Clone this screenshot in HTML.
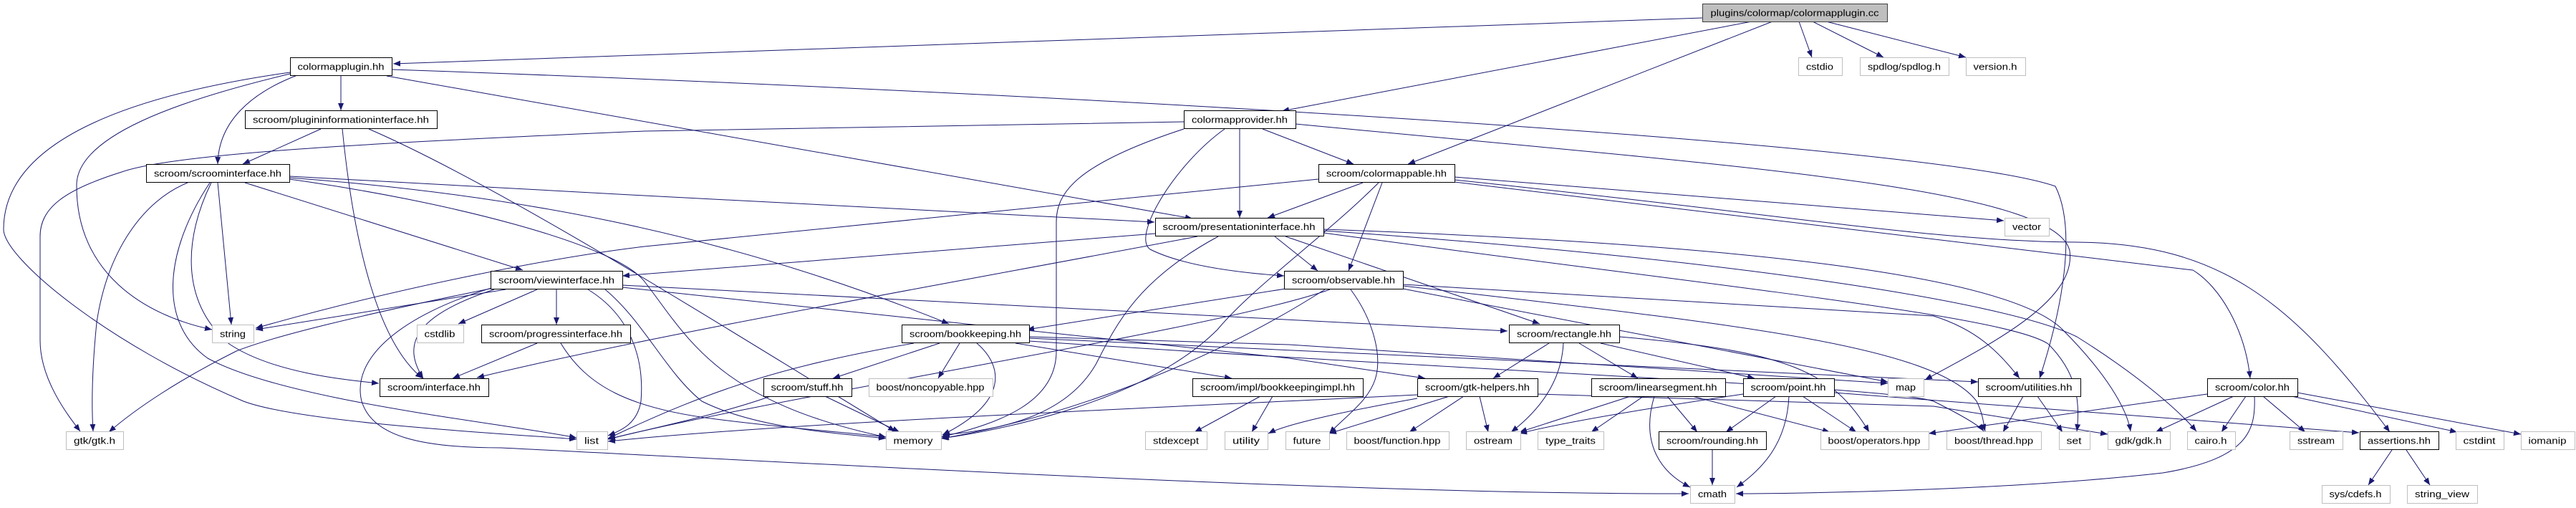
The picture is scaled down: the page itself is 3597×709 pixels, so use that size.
<!DOCTYPE html>
<html><head><meta charset="utf-8"><style>
html,body{margin:0;padding:0;background:#fff;}
svg{display:block;}
text{font-family:"Liberation Sans",sans-serif;font-size:13px;fill:#000;}
</style></head><body>
<svg width="3597" height="709" viewBox="0 0 3597 709" xmlns="http://www.w3.org/2000/svg">
<defs><marker id="a" markerWidth="11" markerHeight="8" refX="10" refY="4" orient="auto" markerUnits="userSpaceOnUse"><path d="M0,0 L10,4 L0,8 z" fill="#191970"/></marker></defs>
<g fill="none" stroke="#191970" stroke-width="1" marker-end="url(#a)">
<path d="M2377,25 L549,89"/>
<path d="M2446,30 L1790,155"/>
<path d="M2475,30 L1966,229"/>
<path d="M2512,30 L2530,80"/>
<path d="M2531,30 L2630,80"/>
<path d="M2550,30 L2745,80"/>
<path d="M476,105 L476,154"/>
<path d="M415,105 C350,130 305,170 304,229"/>
<path d="M405,103 C250,140 105,190 107,260 C107,380 200,440 296,460"/>
<path d="M405,101 C200,130 5,190 5,320 C5,360 150,480 340,560 C420,590 700,605 805,613"/>
<path d="M540,106 L1665,305"/>
<path d="M547,97 C1500,130 2700,200 2870,260 C2900,320 2880,430 2848,528"/>
<path d="M448,180 L339,229"/>
<path d="M478,180 C495,350 530,480 590,528"/>
<path d="M515,180 C700,260 1000,450 1250,602"/>
<path d="M1653,170 L900,183 C500,200 240,215 170,240 C90,265 56,290 56,330 L56,475 C56,530 95,580 112,602"/>
<path d="M1731,180 L1731,304"/>
<path d="M1710,180 C1640,230 1580,330 1606,348 C1650,370 1720,380 1793,385"/>
<path d="M1653,180 C1500,230 1475,270 1475,310 L1475,490 C1475,560 1400,590 1314,610"/>
<path d="M1763,180 L1890,229"/>
<path d="M1809,173 C2400,230 2870,260 2890,350 C2900,420 2780,480 2688,530"/>
<path d="M1903,255 L1770,304"/>
<path d="M1930,255 L1883,378"/>
<path d="M1925,255 C1850,330 1750,400 1700,460 C1600,560 1400,600 1314,612"/>
<path d="M1841,250 L900,344 C780,358 560,400 357,458"/>
<path d="M2031,247 L2798,308"/>
<path d="M2031,251 C2500,300 2700,337 2900,338 C3100,340 3200,420 3337,603"/>
<path d="M2031,254 L3062,377 C3100,400 3135,460 3142,528"/>
<path d="M1613,326 L869,385"/>
<path d="M1672,330 C1300,400 900,470 666,527"/>
<path d="M1701,330 C1590,390 1560,450 1531,507 C1490,580 1400,600 1316,607"/>
<path d="M1780,330 L1840,378"/>
<path d="M1795,330 L2150,452"/>
<path d="M1848,320 C2400,340 2800,380 2880,460 C2940,520 2970,570 2975,602"/>
<path d="M1848,322 C2400,360 2800,420 2900,470 C2980,520 3040,570 3067,602"/>
<path d="M1848,325 C2400,400 2800,440 2860,480 C2900,520 2905,560 2900,602"/>
<path d="M706,404 L357,460"/>
<path d="M689,402 C500,440 380,470 330,490 C250,530 190,570 152,603"/>
<path d="M750,404 L640,452"/>
<path d="M777,404 L777,453"/>
<path d="M690,404 C580,440 560,480 591,528"/>
<path d="M821,404 C880,440 900,500 895,560 C890,590 870,600 849,608"/>
<path d="M686,402 C560,440 490,500 505,560 C520,610 590,625 700,625 C1200,650 1900,690 2358,689"/>
<path d="M845,404 C900,450 930,520 980,560 C1060,600 1180,605 1237,612"/>
<path d="M869,398 L2105,462"/>
<path d="M869,401 L1800,500 L1990,528"/>
<path d="M404,246 L900,273 L1612,310"/>
<path d="M404,248 C700,270 1000,320 1325,452"/>
<path d="M404,250 C620,280 860,340 900,393 C960,470 1000,560 1237,610"/>
<path d="M342,255 L730,377"/>
<path d="M304,255 L323,453"/>
<path d="M262,255 C200,280 150,350 135,450 C128,520 128,570 130,602"/>
<path d="M295,255 C258,330 250,420 320,480 C380,520 480,530 529,535"/>
<path d="M293,255 C230,350 220,450 290,500 C400,560 700,590 805,611"/>
<path d="M750,479 L632,528"/>
<path d="M783,479 C820,540 880,570 1000,585 C1100,598 1200,605 1237,610"/>
<path d="M1795,403 L1434,460"/>
<path d="M1857,404 C1700,460 1100,550 849,613"/>
<path d="M1850,404 C1700,500 1500,580 1315,612"/>
<path d="M1886,404 C1920,450 1930,500 1920,530 C1910,560 1880,580 1856,605"/>
<path d="M1959,397 L2700,441 C2760,460 2790,490 2820,528"/>
<path d="M1959,399 C2400,450 2700,480 2760,560 C2770,580 2770,595 2772,602"/>
<path d="M1959,403 L2636,533"/>
<path d="M1312,479 L1163,528"/>
<path d="M1340,479 L1310,528"/>
<path d="M1364,479 C1400,510 1410,560 1316,607"/>
<path d="M1418,479 L1720,528"/>
<path d="M1276,479 C1100,510 1000,540 849,612"/>
<path d="M1437,470 L1800,481 L2636,535"/>
<path d="M1437,472 L2762,533"/>
<path d="M1437,476 C2100,520 2640,540 2700,560 C2740,580 2765,595 2770,602"/>
<path d="M1076,553 C1000,580 900,600 849,613"/>
<path d="M1152,553 L1256,603"/>
<path d="M1760,553 L1668,603"/>
<path d="M1777,553 L1748,603"/>
<path d="M2163,479 L2085,528"/>
<path d="M2183,479 C2180,540 2140,580 2110,603"/>
<path d="M2205,479 L2287,528"/>
<path d="M2235,479 L2450,528"/>
<path d="M2261,470 C2500,490 2560,520 2610,603"/>
<path d="M2024,553 L1856,605"/>
<path d="M2044,553 L1968,603"/>
<path d="M2066,553 L2078,603"/>
<path d="M1979,551 C1600,570 1100,590 849,616"/>
<path d="M1979,556 C1900,570 1800,590 1771,605"/>
<path d="M2147,550 L2700,567 L2943,606"/>
<path d="M2277,553 L2122,603"/>
<path d="M2295,553 L2222,603"/>
<path d="M2328,553 L2370,603"/>
<path d="M2310,553 C2290,620 2320,660 2360,680"/>
<path d="M2363,553 L2555,603"/>
<path d="M2434,550 C2300,570 2180,590 2122,605"/>
<path d="M2480,553 L2410,603"/>
<path d="M2498,553 C2495,620 2460,655 2425,680"/>
<path d="M2517,553 L2592,603"/>
<path d="M2561,548 L3294,604"/>
<path d="M2391,628 L2391,677"/>
<path d="M2825,553 L2797,603"/>
<path d="M2845,553 L2880,603"/>
<path d="M3082,550 L2693,605"/>
<path d="M3119,553 L3010,603"/>
<path d="M3136,553 L3102,603"/>
<path d="M3160,553 L3219,603"/>
<path d="M3200,553 L3431,603"/>
<path d="M3208,548 L3520,606"/>
<path d="M3148,553 C3150,600 3140,640 3020,660 C2800,685 2500,689 2424,689"/>
<path d="M3340,628 L3307,677"/>
<path d="M3360,628 L3393,677"/>
</g>
<g stroke-width="1">
<rect x="2377.5" y="5.5" width="258" height="25" fill="#bfbfbf" stroke="#404040"/>
<g fill="#fff" stroke="#000">
<rect x="405.5" y="80.5" width="142" height="25"/>
<rect x="342.5" y="154.5" width="268" height="25"/>
<rect x="1653.5" y="154.5" width="156" height="25"/>
<rect x="204.5" y="229.5" width="200" height="25"/>
<rect x="1841.5" y="229.5" width="190" height="25"/>
<rect x="1613.5" y="304.5" width="235" height="25"/>
<rect x="685.5" y="378.5" width="184" height="25"/>
<rect x="1793.5" y="378.5" width="166" height="25"/>
<rect x="672.5" y="453.5" width="208" height="25"/>
<rect x="1259.5" y="453.5" width="178" height="25"/>
<rect x="2107.5" y="453.5" width="154" height="25"/>
<rect x="530.5" y="528.5" width="152" height="25"/>
<rect x="1066.5" y="528.5" width="123" height="25"/>
<rect x="1665.5" y="528.5" width="238" height="25"/>
<rect x="1979.5" y="528.5" width="168" height="25"/>
<rect x="2222.5" y="528.5" width="187" height="25"/>
<rect x="2434.5" y="528.5" width="127" height="25"/>
<rect x="2762.5" y="528.5" width="143" height="25"/>
<rect x="3082.5" y="528.5" width="126" height="25"/>
<rect x="2316.5" y="602.5" width="150" height="25"/>
<rect x="3295.5" y="602.5" width="110" height="25"/>
</g>
<g fill="#fff" stroke="#bfbfbf">
<rect x="2511.5" y="80.5" width="61" height="25"/>
<rect x="2597.5" y="80.5" width="124" height="25"/>
<rect x="2745.5" y="80.5" width="83" height="25"/>
<rect x="2799.5" y="304.5" width="62" height="25"/>
<rect x="296.5" y="453.5" width="58" height="25"/>
<rect x="582.5" y="453.5" width="65" height="25"/>
<rect x="1213.5" y="528.5" width="173" height="25"/>
<rect x="2636.5" y="528.5" width="50" height="25"/>
<rect x="92.5" y="602.5" width="80" height="25"/>
<rect x="805.5" y="602.5" width="43" height="25"/>
<rect x="1237.5" y="602.5" width="77" height="25"/>
<rect x="1599.5" y="602.5" width="86" height="25"/>
<rect x="1710.5" y="602.5" width="60" height="25"/>
<rect x="1795.5" y="602.5" width="61" height="25"/>
<rect x="1880.5" y="602.5" width="143" height="25"/>
<rect x="2047.5" y="602.5" width="76" height="25"/>
<rect x="2147.5" y="602.5" width="92" height="25"/>
<rect x="2542.5" y="602.5" width="151" height="25"/>
<rect x="2718.5" y="602.5" width="132" height="25"/>
<rect x="2875.5" y="602.5" width="43" height="25"/>
<rect x="2943.5" y="602.5" width="87" height="25"/>
<rect x="3054.5" y="602.5" width="67" height="25"/>
<rect x="3197.5" y="602.5" width="74" height="25"/>
<rect x="3429.5" y="602.5" width="67" height="25"/>
<rect x="3520.5" y="602.5" width="75" height="25"/>
<rect x="2360.5" y="677.5" width="62" height="25"/>
<rect x="3242.5" y="677.5" width="95" height="25"/>
<rect x="3361.5" y="677.5" width="98" height="25"/>
</g>
</g>
<g text-anchor="middle">
<text x="2506" y="22.5" textLength="235" lengthAdjust="spacingAndGlyphs">plugins/colormap/colormapplugin.cc</text>
<text x="476" y="97.5" textLength="121" lengthAdjust="spacingAndGlyphs">colormapplugin.hh</text>
<text x="2541" y="97.5" textLength="38" lengthAdjust="spacingAndGlyphs">cstdio</text>
<text x="2659" y="97.5" textLength="102" lengthAdjust="spacingAndGlyphs">spdlog/spdlog.h</text>
<text x="2786" y="97.5" textLength="61" lengthAdjust="spacingAndGlyphs">version.h</text>
<text x="476" y="171.5" textLength="246" lengthAdjust="spacingAndGlyphs">scroom/plugininformationinterface.hh</text>
<text x="1731" y="171.5" textLength="134" lengthAdjust="spacingAndGlyphs">colormapprovider.hh</text>
<text x="304" y="246.5" textLength="178" lengthAdjust="spacingAndGlyphs">scroom/scroominterface.hh</text>
<text x="1936" y="246.5" textLength="168" lengthAdjust="spacingAndGlyphs">scroom/colormappable.hh</text>
<text x="1730" y="321" textLength="213" lengthAdjust="spacingAndGlyphs">scroom/presentationinterface.hh</text>
<text x="2830" y="321" textLength="40" lengthAdjust="spacingAndGlyphs">vector</text>
<text x="777" y="395.5" textLength="162" lengthAdjust="spacingAndGlyphs">scroom/viewinterface.hh</text>
<text x="1876" y="395.5" textLength="144" lengthAdjust="spacingAndGlyphs">scroom/observable.hh</text>
<text x="325" y="470.5" textLength="36" lengthAdjust="spacingAndGlyphs">string</text>
<text x="614" y="470.5" textLength="43" lengthAdjust="spacingAndGlyphs">cstdlib</text>
<text x="776" y="470.5" textLength="186" lengthAdjust="spacingAndGlyphs">scroom/progressinterface.hh</text>
<text x="1348" y="470.5" textLength="156" lengthAdjust="spacingAndGlyphs">scroom/bookkeeping.hh</text>
<text x="2184" y="470.5" textLength="132" lengthAdjust="spacingAndGlyphs">scroom/rectangle.hh</text>
<text x="606" y="545" textLength="130" lengthAdjust="spacingAndGlyphs">scroom/interface.hh</text>
<text x="1127" y="545" textLength="101" lengthAdjust="spacingAndGlyphs">scroom/stuff.hh</text>
<text x="1299" y="545" textLength="151" lengthAdjust="spacingAndGlyphs">boost/noncopyable.hpp</text>
<text x="1784" y="545" textLength="216" lengthAdjust="spacingAndGlyphs">scroom/impl/bookkeepingimpl.hh</text>
<text x="2063" y="545" textLength="146" lengthAdjust="spacingAndGlyphs">scroom/gtk-helpers.hh</text>
<text x="2315" y="545" textLength="165" lengthAdjust="spacingAndGlyphs">scroom/linearsegment.hh</text>
<text x="2497" y="545" textLength="105" lengthAdjust="spacingAndGlyphs">scroom/point.hh</text>
<text x="2661" y="545" textLength="28" lengthAdjust="spacingAndGlyphs">map</text>
<text x="2833" y="545" textLength="121" lengthAdjust="spacingAndGlyphs">scroom/utilities.hh</text>
<text x="3145" y="545" textLength="104" lengthAdjust="spacingAndGlyphs">scroom/color.hh</text>
<text x="132" y="619.5" textLength="58" lengthAdjust="spacingAndGlyphs">gtk/gtk.h</text>
<text x="826" y="619.5" textLength="20" lengthAdjust="spacingAndGlyphs">list</text>
<text x="1275" y="619.5" textLength="55" lengthAdjust="spacingAndGlyphs">memory</text>
<text x="1642" y="619.5" textLength="64" lengthAdjust="spacingAndGlyphs">stdexcept</text>
<text x="1740" y="619.5" textLength="38" lengthAdjust="spacingAndGlyphs">utility</text>
<text x="1825" y="619.5" textLength="39" lengthAdjust="spacingAndGlyphs">future</text>
<text x="1951" y="619.5" textLength="121" lengthAdjust="spacingAndGlyphs">boost/function.hpp</text>
<text x="2085" y="619.5" textLength="54" lengthAdjust="spacingAndGlyphs">ostream</text>
<text x="2193" y="619.5" textLength="70" lengthAdjust="spacingAndGlyphs">type_traits</text>
<text x="2391" y="619.5" textLength="128" lengthAdjust="spacingAndGlyphs">scroom/rounding.hh</text>
<text x="2617" y="619.5" textLength="129" lengthAdjust="spacingAndGlyphs">boost/operators.hpp</text>
<text x="2784" y="619.5" textLength="110" lengthAdjust="spacingAndGlyphs">boost/thread.hpp</text>
<text x="2896" y="619.5" textLength="21" lengthAdjust="spacingAndGlyphs">set</text>
<text x="2986" y="619.5" textLength="65" lengthAdjust="spacingAndGlyphs">gdk/gdk.h</text>
<text x="3087" y="619.5" textLength="45" lengthAdjust="spacingAndGlyphs">cairo.h</text>
<text x="3234" y="619.5" textLength="52" lengthAdjust="spacingAndGlyphs">sstream</text>
<text x="3350" y="619.5" textLength="88" lengthAdjust="spacingAndGlyphs">assertions.hh</text>
<text x="3462" y="619.5" textLength="45" lengthAdjust="spacingAndGlyphs">cstdint</text>
<text x="3557" y="619.5" textLength="53" lengthAdjust="spacingAndGlyphs">iomanip</text>
<text x="2391" y="694" textLength="40" lengthAdjust="spacingAndGlyphs">cmath</text>
<text x="3289" y="694" textLength="73" lengthAdjust="spacingAndGlyphs">sys/cdefs.h</text>
<text x="3410" y="694" textLength="76" lengthAdjust="spacingAndGlyphs">string_view</text>
</g>
</svg>
</body></html>
